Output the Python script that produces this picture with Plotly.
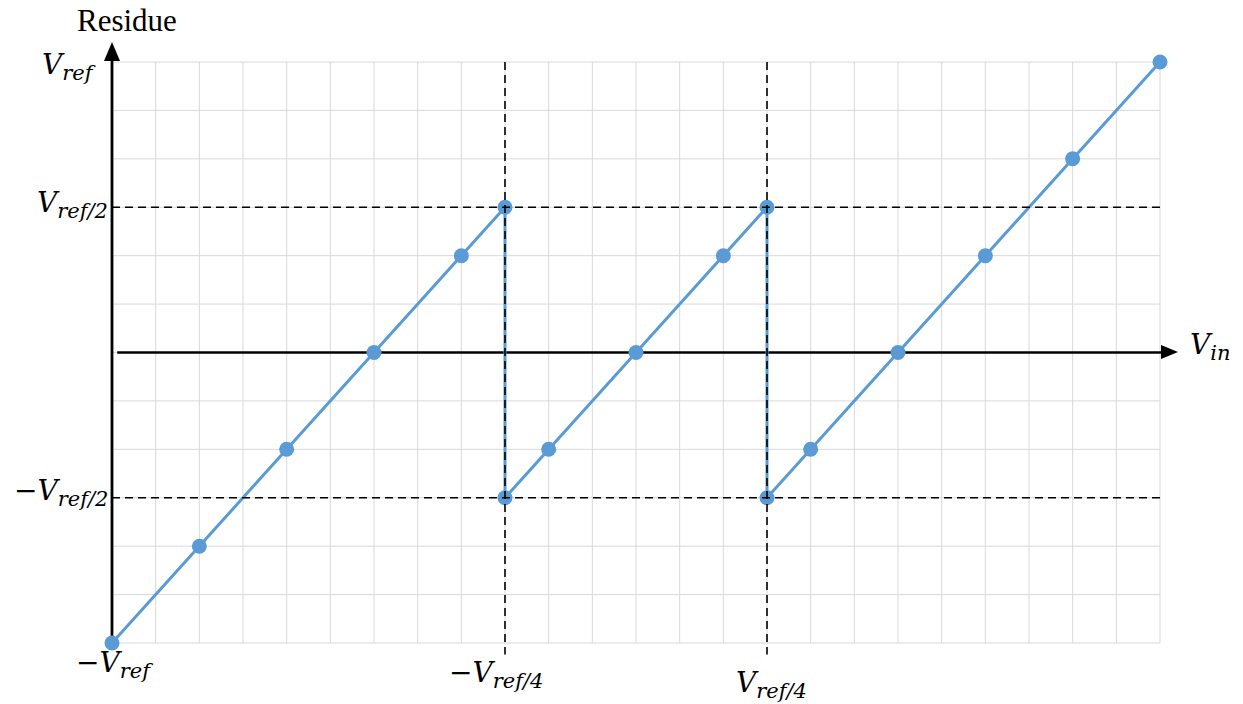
import plotly.graph_objects as go

# Residue transfer curve (values in units of Vref)
vin = [-1.0, -0.8333, -0.6667, -0.5, -0.3333, -0.25, -0.25, -0.1667, 0.0,
       0.1667, 0.25, 0.25, 0.3333, 0.5, 0.6667, 0.8333, 1.0]
residue = [-1.0, -0.6667, -0.3333, 0.0, 0.3333, 0.5, -0.5, -0.3333, 0.0,
           0.3333, 0.5, -0.5, -0.3333, 0.0, 0.3333, 0.6667, 1.0]

# threshold / reference levels
h_levels = [0.5, -0.5]
v_levels = [-0.25, 0.25]

# grid divisions
x_divisions = 24
y_divisions = 12

BLUE = "#5b9bd5"
GRID = "#d9d9d9"
W, H = 1243, 704

# pixel frame of the [-1,1]x[-1,1] box
PX0, PX1 = 112, 1160
PY0, PY1 = 643, 62
XS = (PX1 - PX0) / 2.0
YS = (PY0 - PY1) / 2.0
EXT_L, EXT_R, EXT_T, EXT_B = 20, 26, 22, 20
xr = [-1 - EXT_L / XS, 1 + EXT_R / XS]
yr = [-1 - EXT_B / YS, 1 + EXT_T / YS]
ML, MR = PX0 - EXT_L, W - PX1 - EXT_R
MT, MB = PY1 - EXT_T, H - PY0 - EXT_B
PW, PH = W - ML - MR, H - MT - MB


def px2paper(px, py):
    return (px - ML) / PW, 1 - (py - MT) / PH


def px2data(px, py):
    return -1 + (px - PX0) / XS, 1 - (py - PY1) / YS


shapes = []
# grid
for k in range(x_divisions + 1):
    xv = -1 + 2.0 * k / x_divisions
    shapes.append(dict(type="line", xref="x", yref="y", x0=xv, x1=xv, y0=-1, y1=1,
                       line=dict(color=GRID, width=1), layer="below"))
for k in range(y_divisions + 1):
    yv = -1 + 2.0 * k / y_divisions
    shapes.append(dict(type="line", xref="x", yref="y", x0=-1, x1=1, y0=yv, y1=yv,
                       line=dict(color=GRID, width=1), layer="below"))
# black axes
shapes.append(dict(type="line", xref="x", yref="y", x0=-1, x1=-1, y0=-1, y1=1.03,
                   line=dict(color="black", width=2.8), layer="below"))
shapes.append(dict(type="line", xref="x", yref="y", x0=-0.99, x1=1.005, y0=0, y1=0,
                   line=dict(color="black", width=2.5), layer="below"))


def tri_path(pts):
    coords = [px2data(*p) for p in pts]
    return "M {} {} L {} {} L {} {} Z".format(*[c for xy in coords for c in xy])


# arrow heads
shapes.append(dict(type="path", xref="x", yref="y",
                   path=tri_path([(112, 42), (104, 61), (120, 61)]),
                   fillcolor="black", line=dict(color="black", width=0), layer="below"))
shapes.append(dict(type="path", xref="x", yref="y",
                   path=tri_path([(1178, 352), (1161, 345), (1161, 359)]),
                   fillcolor="black", line=dict(color="black", width=0), layer="below"))

# dashed reference lines
for yv in h_levels:
    shapes.append(dict(type="line", xref="x", yref="y", x0=-1, x1=1, y0=yv, y1=yv,
                       line=dict(color="black", width=1.6, dash="8px,5px"),
                       layer="above"))
for xv in v_levels:
    shapes.append(dict(type="line", xref="x", yref="y", x0=xv, x1=xv, y0=1.0, y1=-1.04,
                       line=dict(color="black", width=1.6, dash="8px,5px"),
                       layer="above"))

fig = go.Figure()
fig.add_trace(go.Scatter(x=vin, y=residue, mode="lines+markers",
                         line=dict(color=BLUE, width=3),
                         marker=dict(color=BLUE, size=15),
                         showlegend=False, cliponaxis=False, hoverinfo="x+y"))

LABEL_FONT = dict(family="DejaVu Serif", size=28, color="black")


def vlab(prefix, sub):
    return (f"{prefix}<i>V</i><sub><span style='font-size:21px'>"
            f"<i>{sub}</i></span></sub>")


def text_ann(px, py, text, xanchor, font=LABEL_FONT):
    xp, yp = px2paper(px, py)
    return dict(x=xp, y=yp, xref="paper", yref="paper", text=text, showarrow=False,
                xanchor=xanchor, yanchor="middle", font=font)


annotations = [
    text_ann(127, 20, "Residue", "center",
             dict(family="Liberation Serif", size=31, color="black")),
    text_ann(98, 66, vlab("", "ref"), "right"),
    text_ann(110, 205, vlab("", "ref/2"), "right"),
    text_ann(110, 492, vlab("\u2212", "ref/2"), "right"),
    text_ann(114, 664, vlab("\u2212", "ref"), "center"),
    text_ann(496, 674, vlab("\u2212", "ref/4"), "center"),
    text_ann(771, 684, vlab("", "ref/4"), "center"),
    text_ann(1188, 346, vlab("", "in"), "left"),
]

fig.update_layout(
    width=W, height=H, autosize=False,
    margin=dict(l=ML, r=MR, t=MT, b=MB, pad=0),
    paper_bgcolor="white", plot_bgcolor="white",
    shapes=shapes, annotations=annotations,
    showlegend=False,
)
fig.update_xaxes(range=xr, showgrid=False, showticklabels=False, ticks="",
                 zeroline=False, showline=False, fixedrange=True)
fig.update_yaxes(range=yr, showgrid=False, showticklabels=False, ticks="",
                 zeroline=False, showline=False, fixedrange=True)

fig.write_html("out.html", config={"displayModeBar": False},
               post_script="document.body.style.margin='0';document.body.style.overflow='hidden';")
